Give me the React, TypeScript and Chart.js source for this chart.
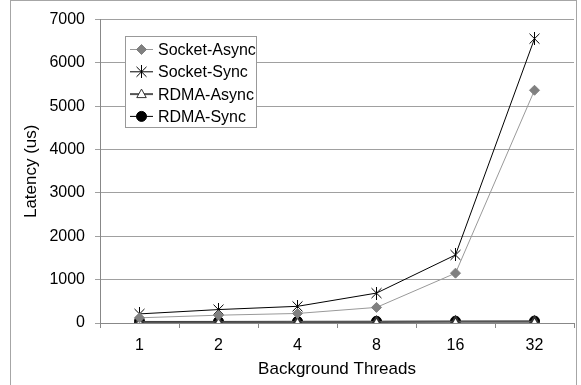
import React, { useEffect, useRef } from 'react';
import { Chart, registerables } from 'chart.js';

Chart.register(...registerables);

const categories = ['1', '2', '4', '8', '16', '32'];
const socketAsync = [120, 180, 220, 360, 1150, 5370];
const socketSync = [210, 310, 385, 690, 1570, 6560];
const rdmaAsync = [18, 20, 22, 24, 26, 28];
const rdmaSync = [35, 36, 38, 40, 42, 45];
const seriesNames = ['Socket-Async', 'Socket-Sync', 'RDMA-Async', 'RDMA-Sync'];
const yMax = 7000;
const yStep = 1000;
const xTitle = 'Background Threads';
const yTitle = 'Latency (us)';

const FONT = '"Liberation Sans", Arial, Helvetica, sans-serif';

function makeStar(): HTMLCanvasElement {
  const c = document.createElement('canvas');
  c.width = 13;
  c.height = 13;
  const g = c.getContext('2d')!;
  g.strokeStyle = '#000';
  g.lineWidth = 1;
  g.beginPath();
  g.moveTo(1.5, 1.5);
  g.lineTo(11.5, 11.5);
  g.moveTo(11.5, 1.5);
  g.lineTo(1.5, 11.5);
  g.moveTo(6.5, 0);
  g.lineTo(6.5, 13);
  g.stroke();
  return c;
}

function drawMarker(ctx: CanvasRenderingContext2D, ds: any, x: number, y: number) {
  const style = ds.pointStyle;
  const r = ds.pointRadius;
  ctx.save();
  ctx.fillStyle = ds.pointBackgroundColor;
  ctx.strokeStyle = ds.pointBorderColor;
  ctx.lineWidth = 1;
  if (style instanceof HTMLCanvasElement) {
    ctx.drawImage(style, x - style.width / 2, y - style.height / 2);
  } else if (style === 'rectRot') {
    ctx.beginPath();
    ctx.moveTo(x, y - r);
    ctx.lineTo(x + r, y);
    ctx.lineTo(x, y + r);
    ctx.lineTo(x - r, y);
    ctx.closePath();
    ctx.fill();
    ctx.stroke();
  } else if (style === 'triangle') {
    ctx.beginPath();
    ctx.moveTo(x, y - r);
    ctx.lineTo(x + r * 0.95, y + r * 0.7);
    ctx.lineTo(x - r * 0.95, y + r * 0.7);
    ctx.closePath();
    ctx.fill();
    ctx.stroke();
  } else {
    ctx.beginPath();
    ctx.arc(x, y, r, 0, Math.PI * 2);
    ctx.fill();
    ctx.stroke();
  }
  ctx.restore();
}

const framePlugin = {
  id: 'frame',
  afterDraw(chart: any) {
    const ctx = chart.ctx;
    ctx.save();
    ctx.strokeStyle = '#a6a6a6';
    ctx.lineWidth = 1;
    ctx.strokeRect(10.5, 0.5, 566, 400);
    ctx.restore();
  },
};

const legendPlugin = {
  id: 'boxLegend',
  afterDraw(chart: any) {
    const ctx = chart.ctx;
    ctx.save();
    ctx.fillStyle = '#ffffff';
    ctx.strokeStyle = '#999999';
    ctx.lineWidth = 1;
    ctx.fillRect(125.5, 36.5, 131, 91);
    ctx.strokeRect(125.5, 36.5, 131, 91);
    chart.data.datasets.forEach((ds: any, i: number) => {
      const y = 49.5 + i * 22.3;
      ctx.strokeStyle = ds.borderColor;
      ctx.lineWidth = ds.borderWidth;
      ctx.beginPath();
      ctx.moveTo(130, y);
      ctx.lineTo(153, y);
      ctx.stroke();
      drawMarker(ctx, ds, 141.5, y);
      ctx.fillStyle = '#000';
      ctx.font = '16px ' + FONT;
      ctx.textBaseline = 'middle';
      ctx.textAlign = 'left';
      ctx.fillText(ds.label, 158, y + 1);
    });
    ctx.restore();
  },
};

export default function App() {
  const ref = useRef<HTMLCanvasElement>(null);
  useEffect(() => {
    const star = makeStar();
    const chart = new Chart(ref.current!, {
      type: 'line',
      data: {
        labels: categories,
        datasets: [
          {
            label: seriesNames[0],
            data: socketAsync,
            borderColor: '#999999',
            borderWidth: 1,
            pointStyle: 'rectRot',
            pointRadius: 5,
            pointBackgroundColor: '#808080',
            pointBorderColor: '#808080',
          },
          {
            label: seriesNames[1],
            data: socketSync,
            borderColor: '#000000',
            borderWidth: 1,
            pointStyle: star,
            pointRadius: 6,
            pointBackgroundColor: '#000000',
            pointBorderColor: '#000000',
          },
          {
            label: seriesNames[2],
            data: rdmaAsync,
            borderColor: '#555555',
            borderWidth: 2,
            pointStyle: 'triangle',
            pointRadius: 5,
            pointBackgroundColor: '#ffffff',
            pointBorderColor: '#333333',
          },
          {
            label: seriesNames[3],
            data: rdmaSync,
            borderColor: '#000000',
            borderWidth: 1,
            pointStyle: 'circle',
            pointRadius: 5,
            pointBackgroundColor: '#000000',
            pointBorderColor: '#000000',
          },
        ] as any,
      },
      options: {
        responsive: false,
        animation: false,
        devicePixelRatio: 1,
        layout: { padding: { top: 14, right: 5, left: 0, bottom: 0 } },
        plugins: { legend: { display: false }, tooltip: { enabled: false } },
        elements: { line: { tension: 0 } },
        scales: {
          x: {
            offset: true,
            grid: { offset: true, drawOnChartArea: false, drawTicks: true, tickLength: 5, color: '#888888' },
            border: { color: '#888888', width: 1 },
            ticks: { color: '#000', font: { family: FONT, size: 16 }, padding: 8, maxRotation: 0 },
            title: { display: true, text: xTitle, color: '#000', font: { family: FONT, size: 17 }, padding: { top: 0, bottom: 5 } },
            afterFit: (s: any) => { s.height = 62; },
          },
          y: {
            min: 0,
            max: yMax,
            ticks: {
              stepSize: yStep,
              color: '#000',
              font: { family: FONT, size: 16 },
              padding: 10,
              callback: (v: any) => String(v),
            },
            grid: { color: '#a0a0a0', tickLength: 5, drawTicks: true },
            border: { color: '#888888', width: 1 },
            title: { display: true, text: yTitle, color: '#000', font: { family: FONT, size: 17 }, padding: { top: 21, bottom: 0 } },
            afterFit: (s: any) => { s.width = 100; },
          },
        },
      },
      plugins: [framePlugin, legendPlugin],
    });
    return () => chart.destroy();
  }, []);
  return (
    <div style={{ position: 'absolute', left: 0, top: 0, width: 581, height: 385, background: '#fff' }}>
      <canvas ref={ref} width={581} height={385} />
    </div>
  );
}
